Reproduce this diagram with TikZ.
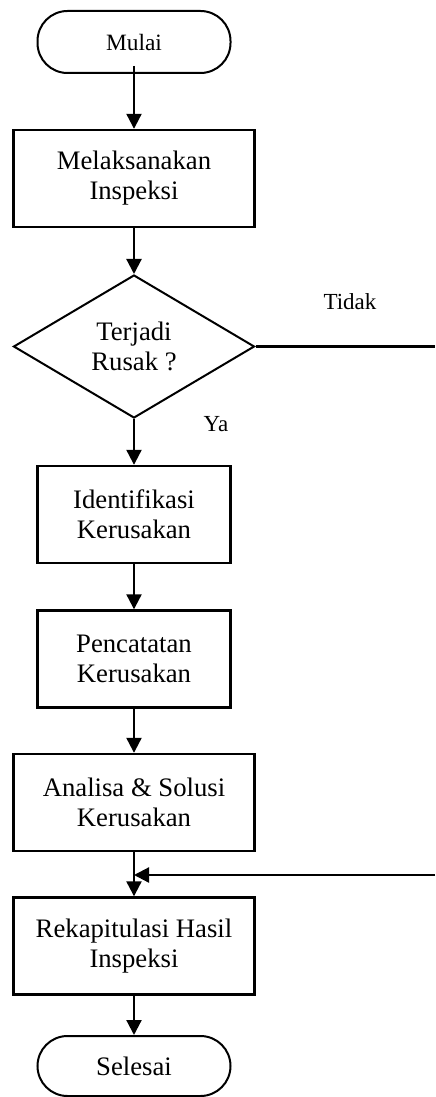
\documentclass[tikz,border=0pt]{standalone}
\usepackage{fontspec}
\setmainfont{Liberation Serif}
\usetikzlibrary{shapes.geometric, arrows.meta}

\tikzset{
    kotak/.style={draw, rectangle, line width=1.2pt, minimum height=48.5pt, inner sep=0pt, align=center, font=\fontsize{13.35}{15}\selectfont},
    ujung/.style={draw, rectangle, rounded corners=15pt, line width=1pt, minimum width=96.5pt, minimum height=31pt, inner sep=0pt},
    keputusan/.style={draw, diamond, aspect=1.7, line width=1pt, minimum width=120.5pt, minimum height=71.5pt, inner sep=0pt, align=center, font=\fontsize{13.35}{15}\selectfont},
    label/.style={font=\fontsize{11.5}{13}\selectfont},
    panah/.style={arrows={-{Triangle[width=7.5pt, length=7.5pt]}}, line width=1.1pt},
    garis/.style={line width=1.1pt}
}

\begin{document}
\begin{tikzpicture}[x=0.5pt, y=-0.5pt]
    \useasboundingbox (0,0) rectangle (435,1097);
    \node [ujung, font=\fontsize{11.7}{13}\selectfont] (mulai) at (134,42) {Mulai};
    \node [kotak, minimum width=120.5pt] (inspeksi) at (134,178.5) {Melaksanakan\\Inspeksi};
    \node [keputusan] (rusak) at (134,346.5) {Terjadi\\Rusak ?};
    \node [kotak, minimum width=96.5pt] (identifikasi) at (134,514.5) {Identifikasi\\Kerusakan};
    \node [kotak, minimum width=96.5pt] (pencatatan) at (134,659) {Pencatatan\\Kerusakan};
    \node [kotak, minimum width=120.5pt] (analisa) at (134,802.5) {Analisa \& Solusi\\Kerusakan};
    \node [kotak, minimum width=120.5pt] (rekap) at (134,946) {Rekapitulasi Hasil\\Inspeksi};
    \node [ujung, minimum height=30pt, font=\fontsize{13.35}{15}\selectfont] (selesai) at (134,1066) {Selesai};
    \coordinate (tidak) at (435,346.5);
    \coordinate (balik) at (435,875);
    \node [label] (teksTidak) at (350,302) {Tidak};
    \node [label] (teksYa) at (216,424) {Ya};
    \draw [panah] (mulai.south) ++(0,-8) -- (inspeksi.north);
    \draw [panah] (inspeksi) -- (rusak);
    \draw [panah] (rusak) -- (identifikasi);
    \draw [panah] (identifikasi) -- (pencatatan);
    \draw [panah] (pencatatan) -- (analisa);
    \draw [panah] (analisa) -- (rekap);
    \draw [panah] (rekap) -- (selesai);
    \draw [garis] (rusak.east) -- (tidak);
    \draw [panah] (balik) -- (analisa.south |- balik);
\end{tikzpicture}
\end{document}
